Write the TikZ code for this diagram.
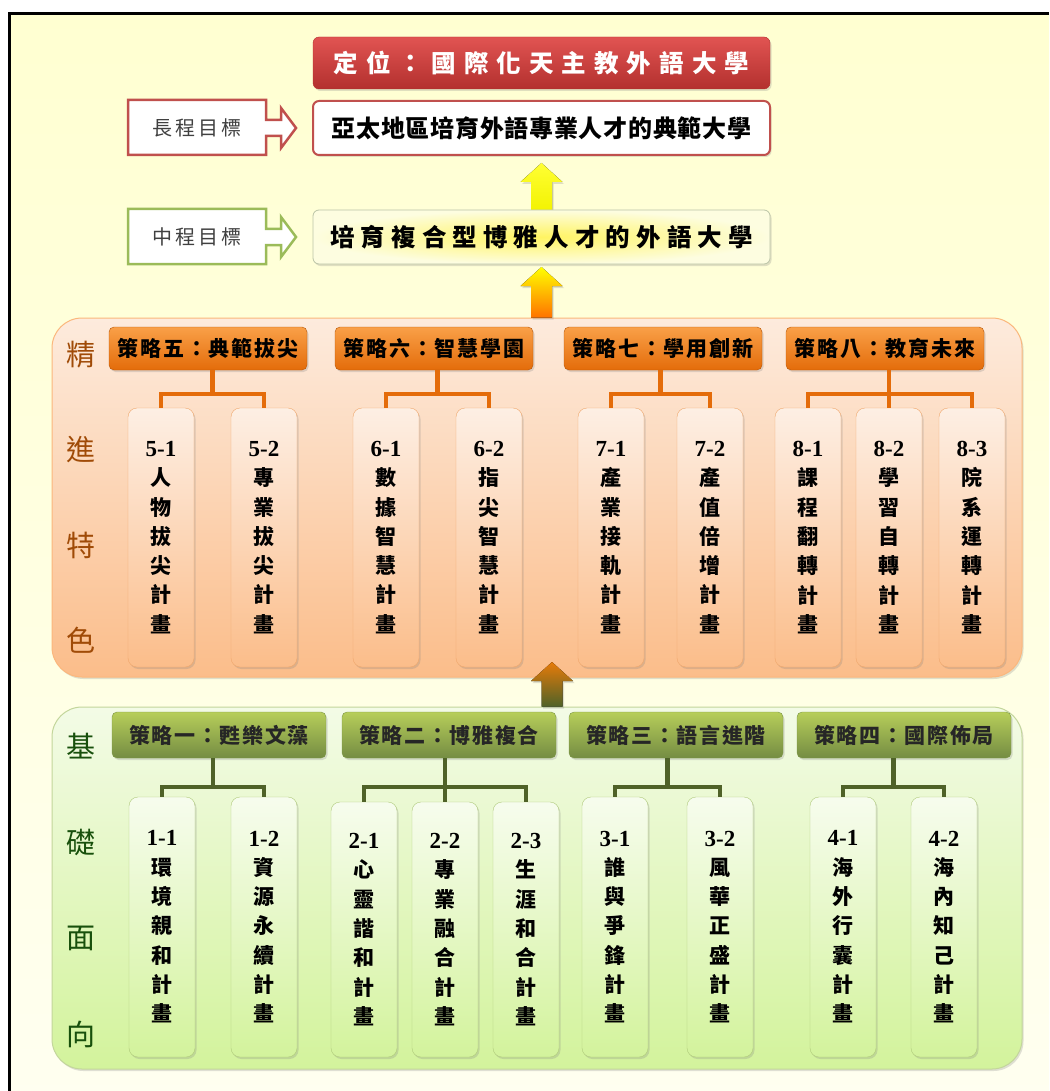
\documentclass[tikz,border=0pt]{standalone}
\usepackage{fontspec}
\setmainfont{Liberation Serif}
\newfontfamily\cjk{Noto Sans CJK TC}
\usepackage{xcolor}
\definecolor{c0504d}{HTML}{C0504D}
\definecolor{e15452}{HTML}{E15452}
\definecolor{b3302e}{HTML}{B3302E}
\definecolor{9bbb59}{HTML}{9BBB59}
\definecolor{e46c0a}{HTML}{E46C0A}
\definecolor{f9a048}{HTML}{F9A048}
\definecolor{4f6228}{HTML}{4F6228}
\definecolor{fdebdd}{HTML}{FDEBDD}
\definecolor{fbbd8a}{HTML}{FBBD8A}
\definecolor{f3fbe6}{HTML}{F3FBE6}
\definecolor{d3f39c}{HTML}{D3F39C}
\definecolor{fff462}{HTML}{FFF462}
\definecolor{fdfde0}{HTML}{FDFDE0}
\usepackage{tikz}
\usetikzlibrary{calc}
\usetikzlibrary{shadows}
\newcommand{\numero}[1]{{\rmfamily\bfseries\fontsize{23}{29.3}\selectfont #1}}
\newcommand{\fleche}[4]{\fill[top color=#3, bottom color=#4, ombre] (#1) -- ++(21,19) -- ++(-10.5,0) -- ($(#2)+(10.5,0)$) -- ($(#2)+(-10.5,0)$) -- ($(#1)+(-10.5,19)$) -- ++(-10.5,0) -- cycle;}

\begin{document}
\begin{tikzpicture}[x=1pt, y=-1pt,
  ombre/.style={drop shadow={shadow xshift=1.5pt, shadow yshift=-2pt, opacity=.25}},
  cible/.style={line width=2.5pt, fill=white, font=\cjk\fontsize{20}{24}\selectfont\addfontfeature{LetterSpace=15}, text=black!75},
  but/.style={shape=rectangle, rounded corners=6pt, minimum width=457, minimum height=54, font=\cjk\bfseries\fontsize{24}{28}\selectfont, ombre},
  panneau/.style={shape=rectangle, rounded corners=30pt, minimum width=970, line width=1pt, ombre},
  ostrat/.style={shape=rectangle, rounded corners=5pt, minimum width=198, minimum height=43, draw=e46c0a!80!black, top color=f9a048, bottom color=e46c0a, font=\cjk\bfseries\fontsize{21}{24}\selectfont\addfontfeature{LetterSpace=9}, ombre},
  gstrat/.style={shape=rectangle, rounded corners=5pt, minimum width=214, minimum height=46, draw=9bbb59!80!black, top color=9bbb59!80!yellow!90!white, bottom color=9bbb59!75!black, font=\cjk\bfseries\fontsize{21}{24}\selectfont\addfontfeature{LetterSpace=8}, text=black!85, ombre},
  oplan/.style={shape=rectangle, rounded corners=9pt, minimum width=66, minimum height=259, inner sep=0pt, align=center, draw=e46c0a!60, top color=fdebdd!80!white, bottom color=fbbd8a, font=\cjk\bfseries\fontsize{21}{29.3}\selectfont, ombre},
  gplan/.style={shape=rectangle, rounded corners=9pt, minimum width=66, inner sep=0pt, align=center, draw=9bbb59!80, top color=f3fbe6!70!white, bottom color=d3f39c, font=\cjk\bfseries\fontsize{21}{29.3}\selectfont, ombre},
  olien/.style={draw=e46c0a, line width=4.5pt},
  glien/.style={draw=4f6228, line width=4.5pt},
  olabel/.style={font=\cjk\fontsize{29}{32}\selectfont, text=e46c0a!70!black},
  glabel/.style={font=\cjk\fontsize{29}{32}\selectfont, text=4f6228!60!green!50!black}]
\useasboundingbox (0,0) rectangle (1049,1091);
% fond
\fill[top color=yellow!18!white, bottom color=yellow!6!white] (9,14) rectangle (1049,1091);
\draw[line width=3pt] (9,1091) -- (9,14) -- (1049,14);

% panneaux
\node[panneau, draw=fbbd8a!90!orange, top color=fdebdd, bottom color=fbbd8a, minimum height=359] (orange) at (537,497.5) {};
\node[panneau, draw=9bbb59!60, top color=f3fbe6, bottom color=d3f39c, minimum height=362] (vert) at (537,888) {};

% fleches
\coordinate (t1) at (541.5,163);
\coordinate (t2) at (541.5,267);
\coordinate (t3) at (552,662);
\fleche{t1}{541.5,212}{yellow!80!white}{yellow!95!black}
\fleche{t2}{t2 |- orange.north}{yellow}{orange!90!red}
\fleche{t3}{t3 |- vert.north}{e46c0a!90!yellow}{4f6228}

% objectifs
\node[but, draw=b3302e, top color=e15452, bottom color=b3302e, text=white, minimum height=52, font=\cjk\bfseries\fontsize{24.5}{28}\selectfont\addfontfeature{LetterSpace=33}] (pos) at (541.5,63) {定位：國際化天主教外語大學};
\node[but, draw=c0504d, line width=2pt, fill=white, font=\cjk\bfseries\fontsize{24}{28}\selectfont\addfontfeature{LetterSpace=3}] (long) at (541.5,128) {亞太地區培育外語專業人才的典範大學};
\node[but, draw=9bbb59!50!gray!60, line width=.8pt, inner color=fff462, outer color=fdfde0, font=\cjk\bfseries\fontsize{24.5}{28}\selectfont\addfontfeature{LetterSpace=25}] (mid) at (541.5,237) {培育複合型博雅人才的外語大學};

\draw[cible, draw=c0504d] (128,100) -- (266,100) -- (266,120) -- (281,120) -- (281,108) -- (296,128) -- (281,148) -- (281,136) -- (266,136) -- (266,155) -- (128,155) -- cycle (197,127.5) node (lt) {長程目標};
\draw[cible, draw=9bbb59] (128,209) -- (266,209) -- (266,229) -- (281,229) -- (281,217) -- (296,237) -- (281,257) -- (281,245) -- (266,245) -- (266,264) -- (128,264) -- cycle (197,236.5) node (mt) {中程目標};

%精進特色
\foreach \c [count=\i] in {精,進,特,色}
  \node[olabel] (om\i) at (81,260+95*\i) {\c};
\foreach \nom/\x/\txt in {s5/208/策略五：典範拔尖, s6/434/策略六：智慧學園, s7/663/策略七：學用創新, s8/885/策略八：教育未來}
  \node[ostrat] (\nom) at (\x,348.5) {\txt};
\foreach \nom/\x/\idx/\txt in {p51/161/5-1/{人\\物\\拔\\尖\\計\\畫}, p52/264/5-2/{專\\業\\拔\\尖\\計\\畫},
    p61/386/6-1/{數\\據\\智\\慧\\計\\畫}, p62/489/6-2/{指\\尖\\智\\慧\\計\\畫},
    p71/611/7-1/{產\\業\\接\\軌\\計\\畫}, p72/710/7-2/{產\\值\\倍\\增\\計\\畫},
    p81/808/8-1/{課\\程\\翻\\轉\\計\\畫}, p82/889/8-2/{學\\習\\自\\轉\\計\\畫}, p83/972/8-3/{院\\系\\運\\轉\\計\\畫}}
  \node[oplan] (\nom) at (\x,537.5) {\numero{\idx}\\\txt};
\foreach \g/\a/\c in {5/p51/p52, 6/p61/p62, 7/p71/p72} {
  \coordinate (b\g) at ($(\a.north)!.5!(\c.north)+(0,-14)$);
  \draw[olien] (\a.north) |- (b\g) -| (\c.north) (b\g) -- (b\g |- s\g.south);
}
\coordinate (b8) at ($(p82.north)+(0,-14)$);
\draw[olien] (p81.north) |- (b8) -| (p83.north) (p82.north) -- (p82.north |- s8.south);

% 基礎面向
\foreach \c [count=\i] in {基,礎,面,向}
  \node[glabel] (gm\i) at (81,650+96*\i) {\c};
\foreach \nom/\x/\txt in {s1/219/策略一：甦樂文藻, s2/449/策略二：博雅複合, s3/676/策略三：語言進階, s4/904/策略四：國際佈局}
  \node[gstrat] (\nom) at (\x,735) {\txt};
\foreach \nom/\x/\y/\h/\idx/\txt in {p11/162/927/260/1-1/{環\\境\\親\\和\\計\\畫}, p12/264/927/260/1-2/{資\\源\\永\\續\\計\\畫},
    p21/364/929.5/255/2-1/{心\\靈\\諧\\和\\計\\畫}, p22/445/929.5/255/2-2/{專\\業\\融\\合\\計\\畫}, p23/526/929.5/255/2-3/{生\\涯\\和\\合\\計\\畫},
    p31/615/927/260/3-1/{誰\\與\\爭\\鋒\\計\\畫}, p32/720/927/260/3-2/{風\\華\\正\\盛\\計\\畫},
    p41/843/927/260/4-1/{海\\外\\行\\囊\\計\\畫}, p42/944/927/260/4-2/{海\\內\\知\\己\\計\\畫}}
  \node[gplan, minimum height=\h] (\nom) at (\x,\y) {\numero{\idx}\\\txt};
\foreach \g/\a/\c in {1/p11/p12, 3/p31/p32, 4/p41/p42} {
  \coordinate (b\g) at ($(\a.north)!.5!(\c.north)+(0,-10)$);
  \draw[glien] (\a.north) |- (b\g) -| (\c.north) (b\g) -- (b\g |- s\g.south);
}
\coordinate (b2) at ($(p22.north)+(0,-15)$);
\draw[glien] (p21.north) |- (b2) -| (p23.north) (p22.north) -- (p22.north |- s2.south);
\end{tikzpicture}
\end{document}
